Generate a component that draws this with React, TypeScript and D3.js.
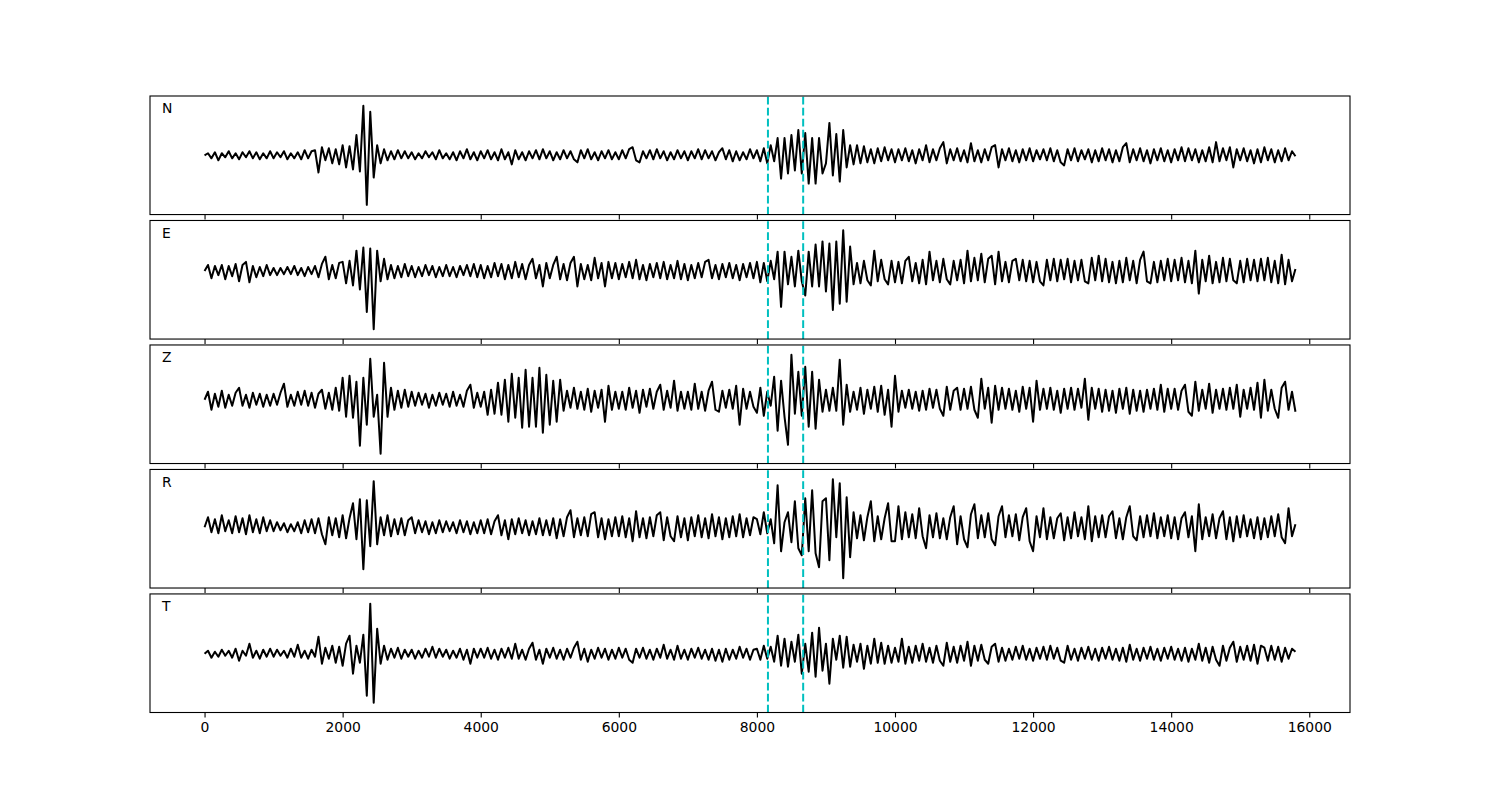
import React, { useRef, useEffect } from 'react';
import * as d3 from 'd3';

// component names, one panel each (top to bottom)
const components = ['N', 'E', 'Z', 'R', 'T'];
// one sample every 50 time units, starting at 0
const sampleStep = 50;
// picked arrivals (dashed cyan lines)
const pickTimes = [8160, 8670];
const xTicks = [0, 2000, 4000, 6000, 8000, 10000, 12000, 14000, 16000];

// amplitudes, 20 samples (1000 time units) per row
const traceN = [
  0, 2, -3, 3, -5, 2, -2, 4, -3, 2, -4, 3, -2, 4, -3, 3, -4, 2, -3, 4,
  -3, 3, -2, 4, -4, 2, -3, 3, -4, 5, -3, 4, 5, -17, 8, -5, 7, -8, 6, -9,
  10, -12, 9, -14, 20, -16, 49, -49, 43, -22, 10, -8, 6, -5, 4, -4, 5, -3, 4, -3,
  3, -4, 2, -3, 4, -2, 3, -4, 5, -3, 2, -4, 3, -5, 4, -3, 6, -4, 3, -5,
  4, -3, 5, -4, 3, -5, 6, -4, 3, -9, 5, -4, 3, -5, 4, -3, 5, -4, 6, -3,
  4, -5, 3, -4, 5, -3, 4, -4, -7, 5, -3, 6, -4, 3, -5, 4, -3, 5, -4, 3,
  -4, 5, -3, 6, 8, -5, -7, 4, -3, 5, -4, 6, -3, 4, -5, 3, -4, 5, -3, 4,
  -5, 4, -3, 6, -4, 5, -3, 4, -5, 3, 7, -4, 5, -6, 4, -5, 3, -4, 6, -3,
  5, -6, 7, -8, 10, -6, 17, -23, 17, -18, 20, -15, 25, -18, 22, -28, 17, -28, 17, -18,
  -8, 32, -20, 21, -26, 25, -12, 10, -9, 10, -8, 9, -7, 6, -8, 7, -6, 8, -5, 6,
  -7, 6, -5, 7, -6, 5, -8, 6, -5, 10, -7, 6, -5, 7, 13, -8, 6, -5, 7, -6,
  5, -7, 12, -6, 5, -7, 6, -5, 8, 10, -12, 6, -5, 7, -6, 5, -7, 6, -5, 7,
  -6, 5, -4, 6, -5, 7, -6, 5, -7, -10, 6, -5, 7, -6, 5, -4, 6, -7, 5, -6,
  7, -5, 6, -7, 5, -6, 8, 12, -7, 6, -5, 7, -6, 5, -8, 6, -5, 7, -6, 5,
  -7, 6, -5, 8, -6, 7, -5, 6, -7, 5, -6, 8, -7, 13, -6, 7, -5, 8, -12, 6,
  -5, 7, -6, 5, -8, 6, -7, 8, -5, 6, -7, 5, -6, 7, -5, 4, -1,
];

const traceE = [
  0, 6, -7, 5, -4, 6, -8, 5, -5, 7, -10, 6, 9, -11, 5, -6, 4, -5, 6, -4,
  3, -4, 3, -3, 4, -3, 5, -4, 3, -5, 4, -3, 5, -6, 7, 14, -8, 6, -7, 8,
  9, -12, 10, -14, 20, -18, 23, -40, 22, -57, 20, -10, 12, -8, 6, -7, 5, -6, 7, -5,
  5, -6, 4, -5, 6, -4, 5, -6, 4, -5, 6, -5, 4, -6, 5, -4, 6, -5, 7, -6,
  6, -7, 5, -6, 8, -5, 7, -8, 6, -7, 9, -6, 7, -8, 6, 12, -7, 6, -15, 8,
  -7, 6, 14, -8, 7, -9, 8, 14, -15, 7, -8, 6, -9, 13, -7, 8, -15, 9, -7, 8,
  -8, 7, -6, 9, -7, 11, -8, 6, -9, 7, -6, 8, -7, 9, -8, 6, -7, 10, -8, 7,
  -9, 6, -7, 8, -6, 9, 11, -7, 6, -8, 7, -6, 8, -7, 6, -9, 7, -6, 8, -7,
  9, -11, 8, -10, 10, -8, 19, -35, 19, -13, 14, -15, 20, -10, -24, 19, -15, 26, -15, 29,
  -20, 27, -38, 29, -32, 40, -30, 24, -13, 8, -12, 10, -9, -14, 20, -10, 11, -8, -13, 10,
  -11, 9, -12, 10, 14, -10, 8, -12, 11, -13, 19, -9, 10, -11, 12, -8, -13, 10, -9, 11,
  -12, 20, -10, 13, -9, 17, -11, 12, 15, -13, 19, -10, 9, -11, 10, 12, -9, 11, -10, 10,
  -11, 9, -10, -14, 11, -9, 12, -10, 11, -8, 12, -11, 10, -9, 11, -10, -12, 13, -9, 15,
  -10, 12, -11, 9, -12, 10, -11, 13, -9, 10, -12, 11, 19, -10, -12, 9, -11, 10, -9, 12,
  -10, 11, -9, 13, -11, 10, -12, 20, -22, 11, -10, 15, -12, 9, -11, 13, -10, 12, -9, -12,
  10, -11, 12, -9, 11, -10, 12, -9, 13, -11, 10, -12, 16, -13, 11, -10, 2,
];

const traceZ = [
  0, 8, -10, 6, -7, 9, -8, 5, -6, 7, 12, -6, 5, -8, 7, -5, 6, -7, 5, -6,
  6, -5, 7, 16, -7, 5, -6, 8, -5, 9, -6, 7, -8, 6, 10, -9, 7, -10, 12, -11,
  22, -17, 24, -18, 18, -46, 22, -25, 41, -17, 5, -54, 37, -17, 12, -10, 9, -8, 10, -7,
  8, -6, 7, -5, 6, -8, 5, -6, 7, -5, 6, -7, 8, -6, 5, -7, 9, 15, -8, 7,
  -7, 8, -15, 10, -14, 17, -15, 20, -22, 26, -18, 22, -28, 30, -27, 22, -27, 32, -33, 25,
  -25, 19, -22, 20, -11, 9, -8, 12, -9, 8, -10, 11, -12, 9, -8, 10, -22, 14, -10, 8,
  -9, 8, -10, 12, -8, 9, -13, 10, -7, 11, -9, 8, 15, -10, 9, -8, 19, -11, 8, -9,
  8, -10, 16, -9, 8, -11, 9, 18, -10, -12, 9, -8, 10, -9, 14, -25, 11, -9, 8, -7,
  -13, 12, -16, 8, -6, 23, -31, 19, -17, -45, 45, -14, 28, -16, 33, -27, 28, -29, 20, -12,
  10, -11, 12, -11, 40, -25, 15, -12, 8, -10, 12, -14, 10, -9, 13, -12, 14, -15, 10, -27,
  24, -12, 9, -8, 10, -9, 8, -11, 9, -10, 11, -8, 10, -9, -16, 13, -10, 9, 12, -10,
  11, -9, 13, -10, -18, 21, -9, 12, -23, 14, -10, 12, -9, 11, -10, 9, -12, 13, -9, 12,
  -22, 19, -10, 11, -9, 12, -10, 9, -13, 11, -9, 12, -10, 11, -8, 21, -20, 12, -9, 11,
  -12, 10, -11, 9, -13, 11, -9, 12, -14, 10, -11, 9, -12, 10, -9, 11, -10, 15, -12, 11,
  -9, 11, -10, 9, 15, -12, -16, 18, -11, 10, -9, 16, -13, 10, -9, 11, -10, 12, -9, 15,
  -17, 10, -9, 12, -10, 17, -18, 20, -11, 10, -9, -18, 12, 18, -10, 8, -12,
];

const traceR = [
  0, 10, -5, 8, -6, 12, -4, 7, -6, 11, -5, 9, -7, 12, -5, 8, -6, 10, -4, 7,
  -4, 5, -3, 4, -5, 3, -4, 5, -6, 7, -5, 8, -6, 9, -7, -17, 10, -8, 9, -10,
  12, -11, 9, 24, -12, 28, -42, 27, -19, 46, -17, 10, -8, 12, -9, 8, -7, 9, -8, 7,
  10, -6, 7, -5, 6, -7, 5, -6, 7, -5, 6, -4, 5, -6, 7, -5, 6, -7, 5, -6,
  7, -6, 8, -7, 6, 12, -8, 7, -12, 8, -7, 9, -6, 7, -8, 6, -7, 9, -8, 7,
  -8, 9, -11, 8, -9, 10, 17, -10, 9, -8, 10, -9, 13, 15, -10, 9, -12, 8, -9, 10,
  -9, 11, -10, 9, -14, 16, -10, 9, -11, 10, -9, 12, 15, -13, 10, -9, -14, 11, -10, 9,
  -13, 10, -9, 12, -10, 9, -11, 13, -9, 10, -12, 9, -10, 11, -9, 13, -10, 9, -8, 10,
  8, -7, 15, -6, 8, -16, 42, -24, 5, 15, -15, 26, -21, -28, 29, -24, 37, -26, -40, 26,
  29, -33, 48, -10, 44, -51, 30, -30, 15, -11, 12, -13, 10, 26, -14, 11, -12, 9, 24, -14,
  -14, 21, -12, 15, -10, 13, -11, 19, -9, -21, 12, -10, 14, -11, 9, -12, 10, 21, -17, 11,
  -12, -20, 13, 23, -11, 12, -10, 14, -12, -18, 11, 21, -10, 12, -9, 13, -13, 10, 19, -14,
  -24, 11, -10, 19, -12, 10, -11, 9, 14, -13, 10, -11, 15, -9, 10, -12, 21, -14, 11, -10,
  12, -10, 11, 16, -11, 9, -12, 10, 21, -9, -13, 11, -10, 12, -9, 14, -11, 10, -9, 12,
  -11, 10, -12, 9, 15, -10, 11, -24, 23, -12, 10, -9, 13, -11, 9, 16, -12, 10, -14, 11,
  -10, 12, -9, 8, -11, 10, -12, 9, -10, 11, -9, 13, -10, -16, 19, -9, 3,
];

const traceT = [
  0, 3, -4, 2, -3, 4, -2, 3, -4, 5, -7, 3, -2, 10, -4, 3, -5, 4, -3, 5,
  -3, 4, -2, 3, -4, 5, -3, 9, -4, 3, -5, 4, -3, 17, -10, 6, -5, 8, -9, 7,
  -12, 10, 18, -20, 8, -9, 19, -42, 50, -49, 25, -10, 8, -6, 5, -4, 6, -5, 4, -3,
  4, -5, 3, -4, 5, -3, 7, -4, 5, -3, 4, -5, 3, -4, 5, -6, 4, -10, 5, -4,
  5, -4, 6, -5, 4, -6, 5, -4, 6, -5, 10, -5, 4, -6, 5, 11, -6, 4, -10, 5,
  -4, 6, -5, 4, -6, 5, -4, 6, 12, -6, 5, -8, 4, -5, 6, -4, 5, -6, 4, -5,
  6, -4, 5, -6, -9, 5, -4, 6, -5, 4, -6, 5, -4, 9, -5, 4, -6, 8, -5, 4,
  -6, 5, -4, 6, -5, 4, -6, 5, -7, 4, -8, 5, -6, 4, -5, 7, -4, 5, -6, 4,
  5, -6, 8, -5, 7, -8, 18, -12, 15, -13, 12, -8, 19, -20, 10, -18, 21, -23, 26, -17,
  10, -30, 15, -6, 18, -14, 17, -13, 9, -8, 10, -15, 8, -10, 15, -9, 11, -10, 8, -9,
  6, -8, 15, -10, 7, -9, 8, -7, 10, -8, 6, -9, 8, -7, -12, 11, -8, 7, -9, 8,
  -7, 12, -12, 8, -7, 9, -6, -10, 7, 10, -8, 6, -7, 5, -6, 7, -5, 8, -6, 5,
  -7, 6, -5, 7, -6, 8, -5, 6, -7, -9, 8, -6, 5, -7, 6, -5, 7, -6, 5, -7,
  6, -5, 7, -6, 5, -7, 6, -8, 9, -6, 5, -7, 6, -5, 7, -6, 5, -7, 6, -5,
  7, -6, 5, -7, 6, -8, 5, -6, 10, -7, 6, -9, 7, -6, -12, 8, -7, 6, 12, -8,
  7, -6, 8, -7, 9, -10, 8, 6, -7, 8, -6, 7, -8, 6, -5, 5, 2,
];

const traces = [traceN, traceE, traceZ, traceR, traceT];

const App = () => {
  const svgRef = useRef(null);

  useEffect(() => {
    const svg = d3.select(svgRef.current);
    svg.selectAll('*').remove();

    const font = 'DejaVu Sans, sans-serif';

    const xScale = d3.scaleLinear()
      .domain([-790, 16590])
      .range([150, 1350]);

    const rowScale = d3.scaleBand()
      .domain(components)
      .range([96, 712.5])
      .paddingInner(0.0476);

    components.forEach((name, i) => {
      const data = traces[i];
      const top = rowScale(name);
      const h = rowScale.bandwidth();
      const bottom = top + h;

      // matplotlib-ish autoscale: data extent plus a margin
      const [lo, hi] = d3.extent(data);
      const pad = (hi - lo) * 0.098;
      const yScale = d3.scaleLinear()
        .domain([lo - pad, hi + pad])
        .range([bottom, top]);

      const g = svg.append('g');

      const line = d3.line()
        .x((d, j) => xScale(j * sampleStep))
        .y(d => yScale(d));

      g.append('path')
        .datum(data)
        .attr('d', line)
        .attr('fill', 'none')
        .attr('stroke', 'black')
        .attr('stroke-width', 2)
        .attr('stroke-linejoin', 'round');

      g.selectAll('line.pick')
        .data(pickTimes)
        .enter()
        .append('line')
        .attr('class', 'pick')
        .attr('x1', d => xScale(d))
        .attr('x2', d => xScale(d))
        .attr('y1', bottom)
        .attr('y2', top)
        .attr('stroke', '#00bfbf')
        .attr('stroke-width', 2)
        .attr('stroke-dasharray', '7.7,3.3');

      g.append('rect')
        .attr('x', 150)
        .attr('y', top)
        .attr('width', 1200)
        .attr('height', h)
        .attr('fill', 'none')
        .attr('stroke', 'black')
        .attr('stroke-width', 1.1);

      g.append('text')
        .attr('x', 150 + 12)
        .attr('y', top + 17.3)
        .attr('font-family', font)
        .attr('font-size', '13.9px')
        .attr('fill', 'black')
        .text(name);

      const isLast = i === components.length - 1;
      const xAxis = d3.axisBottom(xScale)
        .tickValues(xTicks)
        .tickSize(4.9)
        .tickPadding(4.9)
        .tickSizeOuter(0)
        .tickFormat(isLast ? d3.format('d') : () => '');

      const axisG = g.append('g')
        .attr('transform', `translate(0, ${bottom})`)
        .call(xAxis);
      axisG.select('.domain').remove();
      axisG.selectAll('line').attr('stroke', 'black').attr('stroke-width', 1.1);
      axisG.selectAll('text')
        .attr('fill', 'black')
        .style('font-family', font)
        .style('font-size', '13.9px');
    });
  }, []);

  return (
    <svg
      ref={svgRef}
      width={1500}
      height={800}
      style={{ position: 'absolute', left: 0, top: 0, background: 'white' }}
    />
  );
};

export default App;
